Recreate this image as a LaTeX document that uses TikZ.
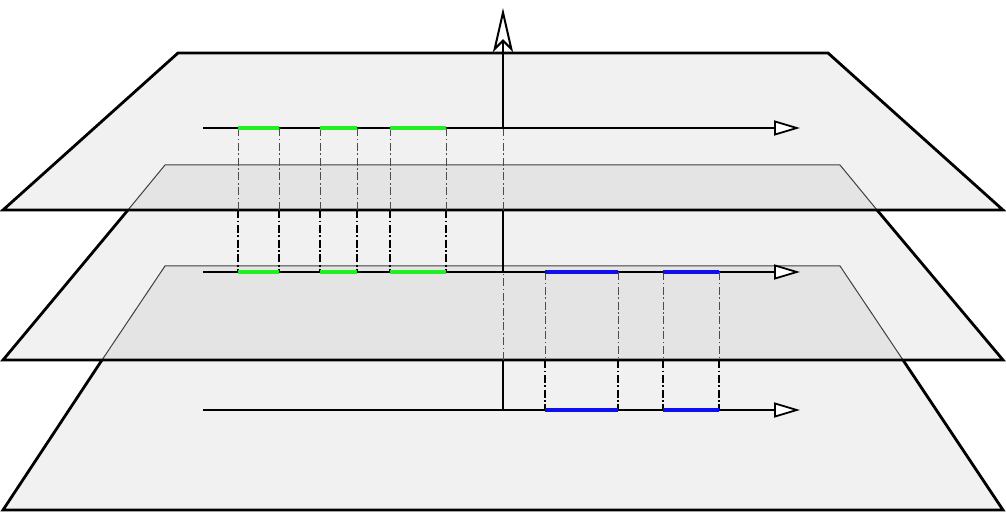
\documentclass[tikz,border=0pt]{standalone}
\usetikzlibrary{arrows.meta}
\definecolor{segGreen}{HTML}{22EE22}
\definecolor{segBlue}{HTML}{1010EE}
\tikzset{
  plane/.style={fill=black, fill opacity=0.055},
  edge/.style={line width=1.4pt, line join=miter},
  hidden/.style={line width=0.5pt, black!75},
  axis/.style={line width=1.3pt, -{Triangle[open, fill=white, length=13pt, width=7.5pt, line width=0.9pt]}},
  dashdot/.style={dash pattern=on 4pt off 1.3pt on 0.8pt off 1.3pt},
  linkthin/.style={dashdot, line width=0.5pt, black!70},
  linkthick/.style={dashdot, line width=1.4pt},
  seg/.style={line width=2pt}
}
\begin{document}
\begin{tikzpicture}[x=0.5pt, y=-0.5pt]
        \useasboundingbox (0,0) rectangle (1006,513);

        % Planes (bottom, middle, top)
        \fill[plane] (165,266) -- (840,266) -- (1003,510) -- (3,510) -- cycle;
        \fill[plane] (165,165) -- (840,165) -- (1003,360) -- (3,360) -- cycle;
        \fill[plane] (178,53) -- (828,53) -- (1003,210) -- (3,210) -- cycle;

        % Edges seen through the planes above
        \draw[hidden] (128,210) -- (165,165) -- (840,165) -- (877,210);
        \draw[hidden] (102,360) -- (165,266) -- (840,266) -- (903,360);

        % Visible edges
        \draw[edge] (178,53) -- (828,53) -- (1003,210) -- (3,210) -- cycle;
        \draw[edge] (128,210) -- (3,360) -- (1003,360) -- (877,210);
        \draw[edge] (102,360) -- (3,510) -- (1003,510) -- (903,360);

        % Vertical axis
        \draw[edge] (503,410) -- (503,360);
        \draw[linkthin] (503,360) -- (503,272);
        \draw[edge] (503,272) -- (503,210);
        \draw[linkthin] (503,210) -- (503,128);
        \draw[line width=1.4pt, -{Stealth[open, fill=white, length=22pt, width=10pt, inset=5pt, line width=1pt]}] (503,128) -- (503,8);

        % Horizontal axes
        \draw[axis] (203,128) -- (800,128);
        \draw[axis] (203,272) -- (800,272);
        \draw[axis] (203,410) -- (800,410);

        % Green intervals, top and middle lines
        \foreach \a/\b in {238/279, 320/357, 390/446} {
          \draw[linkthin] (\a,128) -- (\a,210);
          \draw[linkthin] (\b,128) -- (\b,210);
          \draw[linkthick] (\a,210) -- (\a,272);
          \draw[linkthick] (\b,210) -- (\b,272);
          \draw[seg, segGreen] (\a,128) -- (\b,128);
          \draw[seg, segGreen] (\a,272) -- (\b,272);
        }

        % Blue intervals, middle and bottom lines
        \foreach \a/\b in {545/618, 663/719} {
          \draw[linkthin] (\a,272) -- (\a,360);
          \draw[linkthin] (\b,272) -- (\b,360);
          \draw[linkthick] (\a,360) -- (\a,410);
          \draw[linkthick] (\b,360) -- (\b,410);
          \draw[seg, segBlue] (\a,272) -- (\b,272);
          \draw[seg, segBlue] (\a,410) -- (\b,410);
        }
\end{tikzpicture}
\end{document}
